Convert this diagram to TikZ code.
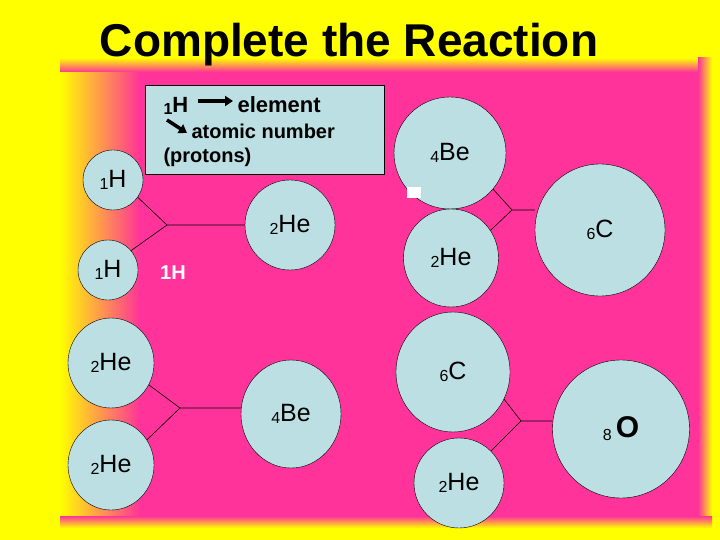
\documentclass[tikz,border=0pt]{standalone}
\usepackage{fontspec}
\setmainfont{Liberation Sans}
\usetikzlibrary{shapes.geometric,arrows.meta}
\definecolor{pk}{HTML}{FF3399}
\definecolor{yl}{HTML}{FFFF00}
\definecolor{lb}{HTML}{BCDFE3}
\newcommand{\el}[2]{{\fontsize{16}{16}\selectfont\raisebox{-2pt}{#1}}#2}
\tikzset{atom/.style={ellipse,draw=black,fill=lb,inner sep=0pt,font=\fontsize{25}{25}\selectfont},
link/.style={draw=black,line width=0.6pt},
keytext/.style={font=\bfseries\fontsize{20}{20}\selectfont,anchor=base west}}
\begin{document}
\begin{tikzpicture}[x=1pt,y=-1pt]
\useasboundingbox (0,0) rectangle (720,540);
\fill[yl] (0,0) rectangle (720,540);
\fill[pk] (140,72) rectangle (698,516);
\shade[left color=yl,right color=pk] (60,72) rectangle (140,516);
\shade[top color=yl,bottom color=pk] (60,58) rectangle (698,72);
\shade[left color=pk,right color=yl] (698,58) rectangle (712,516);
\shade[top color=pk,bottom color=yl] (60,516) rectangle (712,528);
\node[font=\bfseries\fontsize{46}{46}\selectfont] (title) at (349,45) {Complete the Reaction};
% key box
\node[draw=black,fill=lb,minimum width=239pt,minimum height=89pt,inner sep=0pt] (key) at (264.5,129.5) {};
\node[keytext,font=\bfseries\fontsize{22}{22}\selectfont] (kh) at (160,113) {\el{1}{H}};
\node[keytext,font=\bfseries\fontsize{22}{22}\selectfont] (kel) at (234,113) {element};
\node[keytext] (kat) at (188,139) {atomic number};
\node[keytext] (kpr) at (160,163) {(protons)};
\coordinate (a1) at (198,101);
\coordinate (a2) at (233,101);
\coordinate (b1) at (167,120);
\coordinate (b2) at (187,133);
\draw[line width=3.5pt,-{Triangle[length=8pt,width=10pt]}] (a1) -- (a2);
\draw[line width=3.5pt,-{Triangle[length=8pt,width=10pt]}] (b1) -- (b2);
% atoms
\node[atom,minimum width=60pt,minimum height=60pt] (h1) at (113,180) {\el{1}{H}};
\node[atom,minimum width=60pt,minimum height=60pt] (h2) at (108,270) {\el{1}{H}};
\node[atom,minimum width=90pt,minimum height=90pt] (he1) at (290,225) {\el{2}{He}};
\node[text=white,font=\bfseries\fontsize{20}{20}\selectfont] (hw) at (173,273) {1H};
\node[atom,minimum width=112pt,minimum height=112pt] (be1) at (450,153) {\el{4}{Be}};
\fill[white] (407,187) rectangle (421,198);
\node[atom,minimum width=95pt,minimum height=98pt] (he2) at (451,258) {\el{2}{He}};
\node[atom,minimum width=130pt,minimum height=132pt] (c1) at (600,230) {\el{6}{C}};
\node[atom,minimum width=86pt,minimum height=90pt] (he3) at (111,363) {\el{2}{He}};
\node[atom,minimum width=86pt,minimum height=90pt] (he4) at (111,465) {\el{2}{He}};
\node[atom,minimum width=100pt,minimum height=108pt] (be2) at (291,414) {\el{4}{Be}};
\node[atom,minimum width=114pt,minimum height=120pt] (c2) at (453,372) {\el{6}{C}};
\node[atom,minimum width=90pt,minimum height=90pt] (he5) at (459,483) {\el{2}{He}};
\node[atom,minimum width=137pt,minimum height=138pt] (o) at (621,429) {{\fontsize{16}{16}\selectfont\raisebox{-3pt}{8}}\,\textbf{\fontsize{30}{30}\selectfont O}};
% links
\coordinate (j1) at (167,225);
\coordinate (j2) at (512,210);
\coordinate (j3) at (180,408);
\coordinate (j4) at (521,421);
\draw[link] (h1.-35) -- (j1) -- (he1.west);
\draw[link] (h2.40) -- (j1);
\draw[link] (be1.-40) -- (j2) -- (c1.west |- j2);
\draw[link] (he2.35) -- (j2);
\draw[link] (he3.-30) -- (j3) -- (be2.west |- j3);
\draw[link] (he4.35) -- (j3);
\draw[link] (c2.-28) -- (j4) -- (o.west |- j4);
\draw[link] (he5.45) -- (j4);
\end{tikzpicture}
\end{document}
